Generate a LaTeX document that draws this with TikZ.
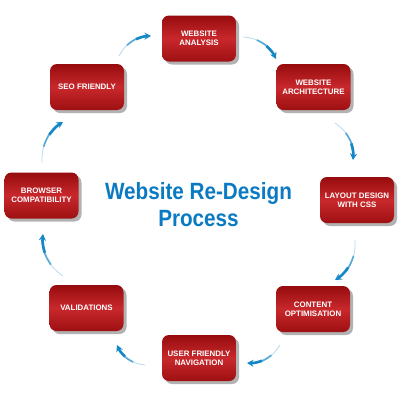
\documentclass[tikz,border=0pt]{standalone}
\usepackage{fontspec}
\setmainfont{Liberation Sans}
\usetikzlibrary{shadows,arrows.meta}
\definecolor{arrowblue}{RGB}{20,135,200}
\definecolor{titleblue}{RGB}{10,122,195}
\definecolor{boxtop}{RGB}{150,12,14}
\definecolor{boxmid}{RGB}{200,40,44}
\definecolor{boxbot}{RGB}{158,16,18}
\tikzset{
  stepbox/.style={rectangle, rounded corners=7pt, minimum width=74pt, minimum height=46pt,
    inner sep=1pt, top color=boxtop, bottom color=boxbot, middle color=boxmid,
    drop shadow={shadow xshift=3pt, shadow yshift=-3pt, fill=black, opacity=0.3},
    text=white, align=center, font=\fontsize{7.9}{9.3}\selectfont\bfseries},
  titletext/.style={anchor=base, text=titleblue, font=\fontsize{23.5}{27}\selectfont\bfseries},
}
\newcommand\narrowtitle[1]{\scalebox{0.88}[1]{#1}}
\newcommand\cycarrow[2]{%
  \path (#1) to[bend left=30] coordinate[pos=0.33] (#1a) coordinate[pos=0.62] (#1b) (#2);
  \draw[line width=0.8pt, arrowblue!30, shorten >=4pt] (#1) to[bend left=30] (#2);
  \draw[line width=1.7pt, arrowblue!70, shorten >=4pt] (#1a) to[bend left=20] (#2);
  \draw[line width=2.6pt, arrowblue, -{Stealth[length=6.5pt,width=7pt]}] (#1b) to[bend left=11] (#2);
}
\begin{document}
\begin{tikzpicture}[x=1pt,y=-1pt]
  \fill[white] (0,0) rectangle (400,400);
  \useasboundingbox (0,0) rectangle (400,400);

  \node[stepbox] (analysis) at (199,38.5) {WEBSITE\\ANALYSIS};
  \node[stepbox] (arch) at (313.5,87) {WEBSITE\\ARCHITECTURE};
  \node[stepbox] (layout) at (357,200) {LAYOUT DESIGN\\WITH CSS};
  \node[stepbox] (content) at (313,309) {CONTENT\\OPTIMISATION};
  \node[stepbox] (nav) at (199,358) {USER FRIENDLY\\NAVIGATION};
  \node[stepbox] (valid) at (86.5,308) {VALIDATIONS};
  \node[stepbox] (browser) at (41.5,195.5) {BROWSER\\COMPATIBILITY};
  \node[stepbox] (seo) at (87,87) {SEO FRIENDLY};

  \node[titletext] (t1) at (198.5,199) {\narrowtitle{Website Re-Design}};
  \node[titletext] (t2) at (198.5,226.5) {\narrowtitle{Process}};

  \coordinate (a1s) at (119,56);  \coordinate (a1e) at (151,36);
  \coordinate (a2s) at (243,37);  \coordinate (a2e) at (276,59);
  \coordinate (a3s) at (335,123); \coordinate (a3e) at (353,160);
  \coordinate (a4s) at (355,240); \coordinate (a4e) at (335,280);
  \coordinate (a5s) at (280,345); \coordinate (a5e) at (247,363);
  \coordinate (a6s) at (145,365); \coordinate (a6e) at (117,345);
  \coordinate (a7s) at (63,276);  \coordinate (a7e) at (43,234);
  \coordinate (a8s) at (42,163);  \coordinate (a8e) at (63,122);

  \cycarrow{a1s}{a1e}
  \cycarrow{a2s}{a2e}
  \cycarrow{a3s}{a3e}
  \cycarrow{a4s}{a4e}
  \cycarrow{a5s}{a5e}
  \cycarrow{a6s}{a6e}
  \cycarrow{a7s}{a7e}
  \cycarrow{a8s}{a8e}
\end{tikzpicture}
\end{document}
